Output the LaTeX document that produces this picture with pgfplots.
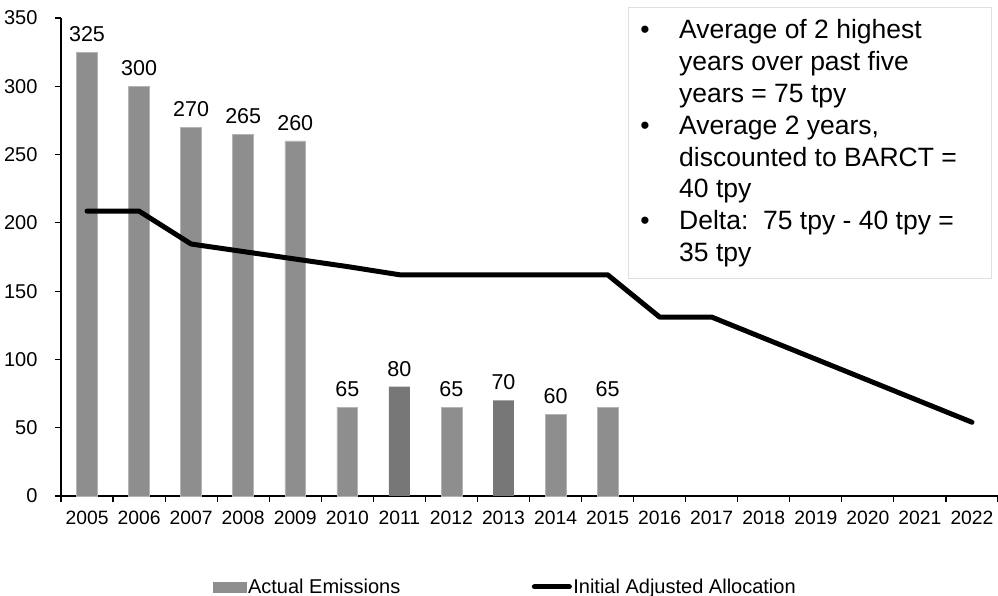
\documentclass[border=0pt]{standalone}
\usepackage{fontspec}
\setmainfont{Liberation Sans}
\usepackage{pgfplots}
\pgfplotsset{compat=1.18}
\definecolor{barlight}{HTML}{8E8E8E}
\definecolor{bardark}{HTML}{777777}
\definecolor{baredge}{HTML}{B4B4B4}
\newcommand{\boxfont}{\fontsize{26.5}{30}\selectfont}
\begin{document}
\begin{tikzpicture}
\begin{axis}[
  scale only axis, width=937pt, height=478pt,
  xmin=-0.5, xmax=17.5, ymin=0, ymax=350,
  axis x line=bottom, axis y line=left,
  axis line style={-, line width=1.5pt, black},
  xtick={-0.5,0.5,...,17.5},
  x tick label as interval,
  xticklabels={2005,2006,2007,2008,2009,2010,2011,2012,2013,2014,2015,2016,2017,2018,2019,2020,2021,2022},
  ytick={0,50,100,150,200,250,300,350},
  yticklabels={0,50,100,150,200,250,300,350},
  tick align=outside, major tick length=6pt,
  tick style={black, line width=1.2pt},
  x tick label style={font=\fontsize{19.3}{23}\selectfont, yshift=-5pt},
  y tick label style={font=\fontsize{20}{23}\selectfont, xshift=-14pt},
  clip=false,
  legend columns=2,
  legend cell align=left,
  legend style={at={(0.162,-0.190)}, anchor=west, draw=none, fill=none, inner sep=0pt,
    font=\fontsize{20}{23}\selectfont, nodes={inner sep=1.5pt},
    /tikz/every even column/.append style={column sep=130pt}},
  point meta=explicit symbolic,
  nodes near coords style={font=\fontsize{21.5}{26}\selectfont, inner sep=2pt, yshift=8pt, black},
]
\coordinate (o) at (rel axis cs:0,0);
\addplot[ybar, bar width=0.4, bar shift=0pt, fill=barlight, draw=baredge, line width=0.6pt, nodes near coords,
  legend image code/.code={\fill[barlight] (0pt,-5pt) rectangle (33pt,5pt);}]
  coordinates {(0,325) [325] (1,300) [300] (2,270) [270] (3,265) [265] (4,260) [260]
   (5,65) [65] (7,65) [65] (9,60) [60] (10,65) [65]};
\addlegendentry{Actual Emissions}
\addplot[ybar, bar width=0.4, bar shift=0pt, fill=bardark, draw=none, nodes near coords, forget plot]
  coordinates {(6,80) [80] (8,70) [70]};
\addplot[black, line width=5pt, line cap=round, line join=round, mark=none, point meta=none,
  legend image code/.code={\draw[black, line width=5pt, line cap=round] (0pt,0pt) -- (35pt,0pt);}]
  coordinates {(0,208.6) (1,208.6) (2,184.5) (3,179) (4,173.5) (5,168) (6,162) (7,162) (8,162) (9,162) (10,162)
   (11,131) (12,131) (13,115.6) (14,100.2) (15,84.8) (16,69.4) (17,54)};
\addlegendentry{Initial Adjusted Allocation}
\end{axis}
\draw[gray!25, fill=white, line width=0.8pt] ([shift={(567pt,218pt)}]o) rectangle ([shift={(930pt,489pt)}]o);
\foreach \yy/\txt in {457/{Average of 2 highest}, 425.2/{years over past five}, 393.4/{years = 75 tpy},
  361.6/{Average 2 years,}, 329.8/{discounted to BARCT =}, 298/{40 tpy},
  266.2/{Delta:\ \ 75 tpy - 40 tpy =}, 234.4/{35 tpy}} {
  \node[anchor=base west, inner sep=0pt, font=\boxfont] at ([shift={(618pt,\yy pt)}]o) {\txt};
}
\foreach \yy in {457,361.6,266.2} {
  \node[anchor=base, inner sep=0pt, font=\boxfont] at ([shift={(584pt,\yy pt)}]o) {•};
}
\pgfresetboundingbox
\path ([shift={(-61pt,-100pt)}]o) rectangle ([shift={(937pt,496pt)}]o);
\end{tikzpicture}
\end{document}
